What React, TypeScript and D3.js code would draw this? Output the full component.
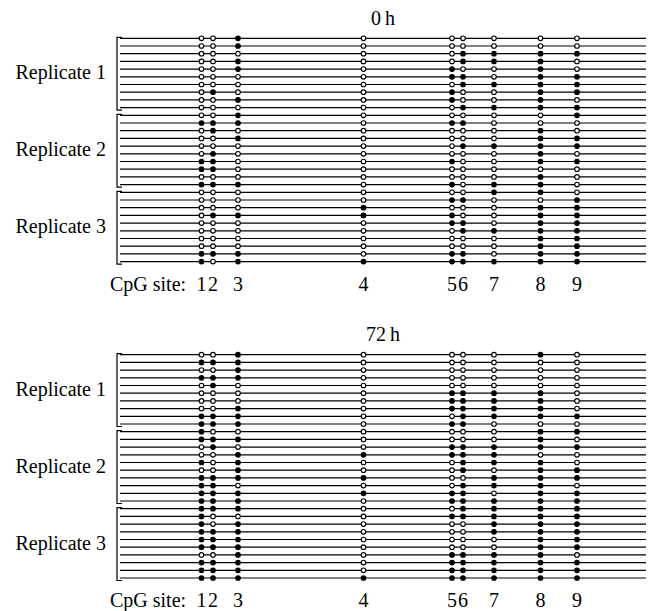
import React from "react";
import * as d3 from "d3";

// CpG sites and their relative positions along the fragment
const siteLabels = ["1", "2", "3", "4", "5", "6", "7", "8", "9"];
const sitePositions = [0, 11.5, 36.5, 162, 250.5, 261.5, 292.5, 339, 375.5];
const fragmentExtent = [-81.5, 444.5];

const replicateNames = ["Replicate 1", "Replicate 2", "Replicate 3"];
const panelTitles = ["0\u2009h", "72\u2009h"];

// 1 = methylated (filled), 0 = unmethylated (open); one string per clone, 9 sites
const h0Rep1 = [
  "001000000", "001000000", "000001111", "001001110", "001010010",
  "000011011", "000001111", "010010011", "001010010", "000001111",
];
const h0Rep2 = [
  "001000001", "111011000", "010000010", "001000011", "000001111",
  "010000010", "110010011", "110000000", "000000010", "111010110",
];
const h0Rep3 = [
  "000000110", "000011001", "000100011", "011110011", "000011011",
  "000001111", "000000011", "000000011", "111011011", "101111111",
];
const h72Rep1 = [
  "001000010", "111000000", "001000000", "111000000", "010000000",
  "000011110", "000011110", "001011110", "111001111", "111011000",
];
const h72Rep2 = [
  "100000011", "111000010", "010011111", "001111100", "101001110",
  "001001011", "111100111", "110001110", "111111011", "111011111",
];
const h72Rep3 = [
  "111001111", "100011111", "101000111", "111000111", "111000011",
  "111000011", "001011110", "111011111", "111011111", "111111111",
];

const panels = [
  { title: panelTitles[0], reps: [h0Rep1, h0Rep2, h0Rep3] },
  { title: panelTitles[1], reps: [h72Rep1, h72Rep2, h72Rep3] },
];

const W = 650;
const H = 611;
const FONT = "'Liberation Serif', 'Times New Roman', serif";

export default function App() {
  const x = d3.scaleLinear().domain(fragmentExtent).range([120, 646]);
  const panelTop = [38.3, 354.7];
  const rowStep = 7.7;

  return (
    <svg
      width={W}
      height={H}
      style={{ position: "absolute", left: 0, top: 0, background: "#fff" }}
      fontFamily={FONT}
    >
      {panels.map((panel, pi) => {
        const rows = panel.reps.flat();
        const y = d3
          .scaleLinear()
          .domain([0, rows.length - 1])
          .range([panelTop[pi], panelTop[pi] + rowStep * (rows.length - 1)]);
        const firstY = y(0);
        const lastY = y(rows.length - 1);
        const [x0, x1] = x.range();
        let offset = 0;
        return (
          <g key={pi}>
            <text
              x={(x0 + x1) / 2}
              y={firstY - 13.3}
              fontSize={20}
              textAnchor="middle"
            >
              {panel.title}
            </text>
            {panel.reps.map((rep, ri) => {
              const start = offset;
              offset += rep.length;
              const top = y(start) - 1;
              const bottom = y(start + rep.length - 1) + 2.5;
              const mid = (y(start) + y(start + rep.length - 1)) / 2;
              return (
                <g key={ri}>
                  <path
                    d={`M122,${top}H117V${bottom}H122`}
                    fill="none"
                    stroke="#000"
                    strokeWidth={1.2}
                  />
                  <text x={106} y={mid + 6.5} fontSize={20} textAnchor="end">
                    {replicateNames[ri]}
                  </text>
                </g>
              );
            })}
            {rows.map((row, r) => (
              <g key={r}>
                <line
                  x1={x0}
                  x2={x1}
                  y1={y(r)}
                  y2={y(r)}
                  stroke="#000"
                  strokeWidth={1.2}
                />
                {row.split("").map((v, s) => (
                  <circle
                    key={s}
                    cx={x(sitePositions[s])}
                    cy={y(r)}
                    r={2.3}
                    fill={v === "1" ? "#000" : "#fff"}
                    stroke="#000"
                    strokeWidth={1.1}
                  />
                ))}
              </g>
            ))}
            <text x={110} y={lastY + 29} fontSize={20}>
              CpG site:
            </text>
            {siteLabels.map((lab, s) => (
              <text
                key={s}
                x={x(sitePositions[s])}
                y={lastY + 29}
                fontSize={20}
                textAnchor="middle"
              >
                {lab}
              </text>
            ))}
          </g>
        );
      })}
    </svg>
  );
}
